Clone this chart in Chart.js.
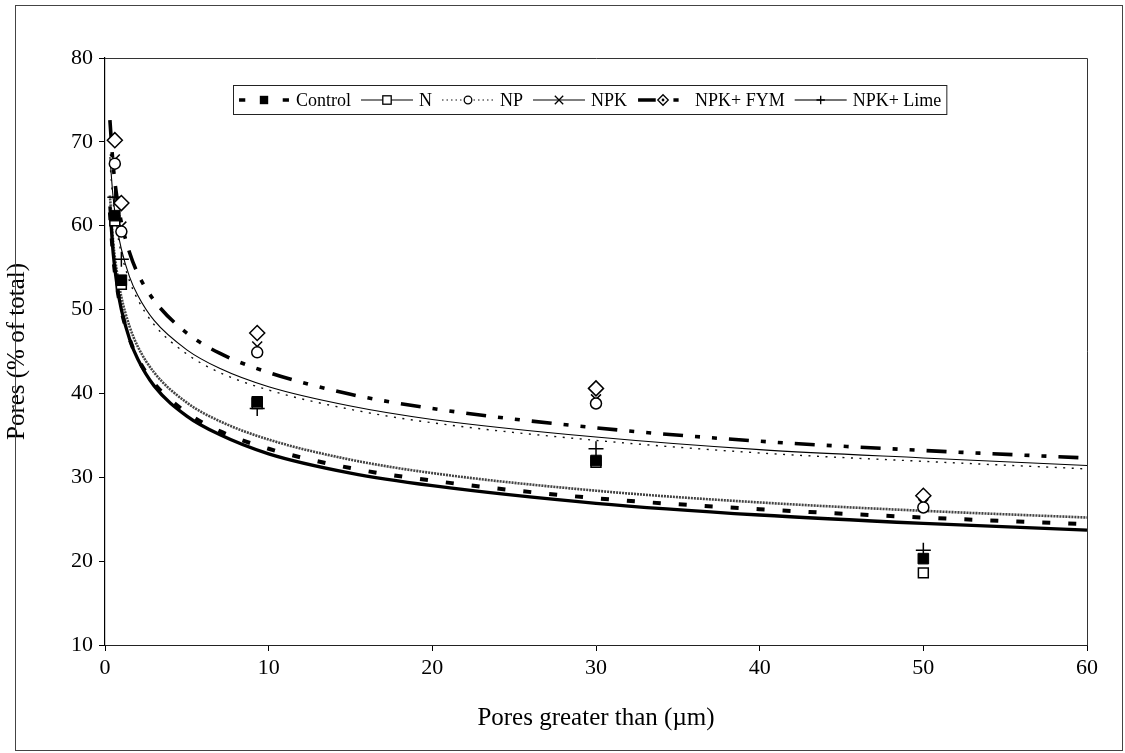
<!DOCTYPE html>
<html><head><meta charset="utf-8">
<script src="https://cdn.jsdelivr.net/npm/chart.js@4.4.0/dist/chart.umd.min.js"></script>
<style>html,body{margin:0;padding:0;background:#fff;}#wrap{width:1125px;height:753px;position:relative;}canvas{display:block;}</style>
</head><body><div id="wrap"><canvas id="c" width="1125" height="753" style="width:1125px;height:753px"></canvas></div>
<script>
// ---- data ----
const seriesNames = ['Control', 'N', 'NP', 'NPK', 'NPK+ FYM', 'NPK+ Lime'];
const xTicks = [0, 10, 20, 30, 40, 50, 60];
const yTicks = [10, 20, 30, 40, 50, 60, 70, 80];

// measured points
const pointX = [0.6, 1.0, 9.3, 30, 50];
const controlPts = [61.2, 53.5, 39.0, 32.0, 20.3];
const nPts       = [60.6, 53.0, 38.8, 31.8, 18.6];
const npPts      = [67.4, 59.3, 44.9, 38.8, 26.4];
const npkPts     = [67.9, 59.9, 45.6, 39.3, 26.8];
const fymPts     = [70.2, 62.7, 47.2, 40.6, 27.8];
const limePts    = [63.4, 56.0, 38.2, 33.4, 21.3];

// trend curves
const curveX       = [0.3, 0.5, 0.75, 1, 1.5, 2, 3, 5, 7, 10, 15, 20, 30, 40, 50, 60];
const controlCurve = [61.6, 56.3, 52.5, 49.9, 46.5, 44.2, 41.2, 37.7, 35.5, 33.4, 31.1, 29.6, 27.5, 26.2, 25.2, 24.4];
const nCurve       = [62.3, 56.7, 52.7, 50.0, 46.5, 44.1, 40.9, 37.3, 35.1, 32.8, 30.5, 29.0, 26.9, 25.5, 24.5, 23.7];
const npCurve      = [67.6, 62.8, 59.2, 56.7, 53.4, 51.2, 48.2, 44.7, 42.5, 40.4, 38.1, 36.5, 34.4, 32.9, 31.9, 31.0];
const npkCurve     = [68.2, 63.3, 59.7, 57.2, 53.9, 51.7, 48.7, 45.2, 43.0, 40.8, 38.5, 36.9, 34.8, 33.3, 32.3, 31.4];
const fymCurve     = [72.6, 67.2, 63.1, 60.4, 56.8, 54.3, 51.1, 47.2, 44.8, 42.5, 39.9, 38.2, 35.9, 34.3, 33.2, 32.3];
const limeCurve    = [63.6, 58.1, 54.2, 51.5, 48.0, 45.6, 42.5, 38.9, 36.7, 34.5, 32.1, 30.5, 28.4, 27.0, 26.0, 25.2];

// ---- styles ----
const FONT = '"Liberation Serif", "Times New Roman", serif';
const pointSets = [controlPts, nPts, npPts, npkPts, fymPts, limePts];
const curveSets = [controlCurve, nCurve, npCurve, npkCurve, fymCurve, limeCurve];
const pointStyles = [
  {pointStyle: 'rect', radius: 7.5, bg: '#000', bw: 1},
  {pointStyle: 'rect', radius: 7, bg: '#fff', bw: 1.5},
  {pointStyle: 'circle', radius: 5.5, bg: '#fff', bw: 1.5},
  {pointStyle: 'crossRot', radius: 7, bg: '#fff', bw: 1.5},
  {pointStyle: 'rectRot', radius: 7.5, bg: '#fff', bw: 1.5},
  {pointStyle: 'cross', radius: 7.5, bg: '#fff', bw: 1.5}
];
const lineStyles = [
  {color: '#000', width: 4, dash: [8, 18]},
  {color: '#000', width: 3.3, dash: []},
  {color: '#111', width: 1.4, dash: [2, 6.5]},
  {color: '#000', width: 1.1, dash: []},
  {color: '#000', width: 3.6, dash: [20, 12, 5, 12, 5, 12]},
  {color: '#444', width: 2.6, dash: [2, 1]}
];
const legendMarkers = ['fsq', 'osq', 'circ', 'x', 'dia', 'plus'];
const legendSegs = [
  [[0.02, 0.14], [0.86, 0.98]],
  [[0, 1]],
  'dots',
  [[0, 1]],
  [[0.02, 0.36], [0.7, 0.8]],
  [[0, 1]]
];
const legendWidths = [3.5, 1.1, 1.2, 1.1, 3.5, 1.6];

function toXY(xs, ys) { return xs.map((x, i) => ({x: x, y: ys[i]})); }

const datasets = [];
pointSets.forEach((p, i) => {
  const s = pointStyles[i];
  datasets.push({
    label: seriesNames[i], data: toXY(pointX, p), showLine: false,
    pointStyle: s.pointStyle, pointRadius: s.radius, pointHoverRadius: s.radius,
    pointBackgroundColor: s.bg, pointBorderColor: '#000', pointBorderWidth: s.bw,
    borderColor: '#000', backgroundColor: s.bg
  });
});
curveSets.forEach((c, i) => {
  const s = lineStyles[i];
  datasets.push({
    label: seriesNames[i] + ' trend', data: toXY(curveX, c), showLine: true,
    pointRadius: 0, borderColor: s.color, borderWidth: s.width, borderDash: s.dash,
    cubicInterpolationMode: 'monotone', fill: false, borderCapStyle: 'butt'
  });
});

function drawMarker(ctx, type, x, y, r) {
  ctx.save();
  ctx.setLineDash([]);
  ctx.lineWidth = 1.3; ctx.strokeStyle = '#000'; ctx.fillStyle = '#fff';
  if (type === 'fsq') { ctx.fillStyle = '#000'; ctx.fillRect(x - r, y - r, 2 * r, 2 * r); }
  else if (type === 'osq') { ctx.fillRect(x - r, y - r, 2 * r, 2 * r); ctx.strokeRect(x - r, y - r, 2 * r, 2 * r); }
  else if (type === 'circ') { ctx.beginPath(); ctx.arc(x, y, r, 0, Math.PI * 2); ctx.fill(); ctx.stroke(); }
  else if (type === 'x') { ctx.beginPath(); ctx.moveTo(x - r, y - r); ctx.lineTo(x + r, y + r); ctx.moveTo(x - r, y + r); ctx.lineTo(x + r, y - r); ctx.stroke(); }
  else if (type === 'dia') {
    const d = r * 1.25;
    ctx.beginPath(); ctx.moveTo(x, y - d); ctx.lineTo(x + d, y); ctx.lineTo(x, y + d); ctx.lineTo(x - d, y); ctx.closePath(); ctx.fill(); ctx.stroke();
    ctx.fillStyle = '#000'; ctx.beginPath(); ctx.arc(x, y, 1.4, 0, Math.PI * 2); ctx.fill();
  }
  else if (type === 'plus') { ctx.beginPath(); ctx.moveTo(x - r, y); ctx.lineTo(x + r, y); ctx.moveTo(x, y - r); ctx.lineTo(x, y + r); ctx.stroke(); }
  ctx.restore();
}

const framePlugin = {
  id: 'frame',
  beforeDraw(chart) {
    const ctx = chart.ctx;
    ctx.save(); ctx.fillStyle = '#fff'; ctx.fillRect(0, 0, chart.width, chart.height); ctx.restore();
  },
  afterDraw(chart) {
    const ctx = chart.ctx, a = chart.chartArea;
    ctx.save();
    ctx.strokeStyle = '#333'; ctx.lineWidth = 1;
    ctx.beginPath();
    ctx.moveTo(a.left, a.top + 0.5); ctx.lineTo(a.right + 0.5, a.top + 0.5); ctx.lineTo(a.right + 0.5, a.bottom);
    ctx.stroke();
    ctx.strokeStyle = '#444';
    ctx.strokeRect(15.5, 5.5, 1107, 745);
    ctx.font = '18px ' + FONT;
    ctx.textBaseline = 'middle';
    const symW = 52, gapT = 6, gapItem = 10, padX = 5;
    const widths = seriesNames.map(n => ctx.measureText(n).width);
    let total = padX * 2;
    widths.forEach((w, i) => { total += symW + gapT + w + (i < widths.length - 1 ? gapItem : 0); });
    const left = 233, top = 85, h = 29;
    ctx.fillStyle = '#fff'; ctx.fillRect(left, top, total, h);
    ctx.strokeStyle = '#222'; ctx.lineWidth = 1; ctx.strokeRect(left + 0.5, top + 0.5, total, h);
    let x = left + padX; const cy = top + h / 2 + 0.5;
    seriesNames.forEach((name, i) => {
      const ls = lineStyles[i];
      ctx.strokeStyle = ls.color; ctx.lineWidth = legendWidths[i];
      if (legendSegs[i] === 'dots') {
        ctx.setLineDash([1.5, 3]);
        ctx.beginPath(); ctx.moveTo(x, cy); ctx.lineTo(x + symW, cy); ctx.stroke();
        ctx.setLineDash([]);
      } else {
        legendSegs[i].forEach(sg => {
          ctx.beginPath(); ctx.moveTo(x + sg[0] * symW, cy); ctx.lineTo(x + sg[1] * symW, cy); ctx.stroke();
        });
      }
      drawMarker(ctx, legendMarkers[i], x + symW / 2, cy, legendMarkers[i] === 'circ' ? 3.8 : 4.2);
      ctx.fillStyle = '#000';
      ctx.fillText(name, x + symW + gapT, cy + 1);
      x += symW + gapT + widths[i] + gapItem;
    });
    ctx.restore();
  }
};

new Chart(document.getElementById('c'), {
  type: 'line',
  data: {datasets: datasets},
  plugins: [framePlugin],
  options: {
    responsive: false, animation: false, devicePixelRatio: 1,
    layout: {padding: {left: 0, right: 38, top: 58, bottom: 0}},
    plugins: {legend: {display: false}, tooltip: {enabled: false}},
    scales: {
      x: {
        type: 'linear', min: 0, max: 60,
        afterBuildTicks: s => { s.ticks = xTicks.map(v => ({value: v})); },
        afterFit: s => { s.height = 108; },
        ticks: {color: '#000', font: {family: FONT, size: 22}, padding: 4, maxRotation: 0},
        grid: {display: true, drawOnChartArea: false, drawTicks: true, tickLength: 6, color: '#000'},
        border: {display: true, color: '#222', width: 1},
        title: {display: true, text: 'Pores greater than (µm)', color: '#000', font: {family: FONT, size: 25}, padding: {top: 0, bottom: 20}}
      },
      y: {
        type: 'linear', min: 10, max: 80,
        afterBuildTicks: s => { s.ticks = yTicks.map(v => ({value: v})); },
        afterFit: s => { s.width = 105; },
        ticks: {color: '#000', font: {family: FONT, size: 22}, padding: 6},
        grid: {display: true, drawOnChartArea: false, drawTicks: true, tickLength: 6, color: '#000'},
        border: {display: true, color: '#000', width: 1.2},
        title: {display: true, text: 'Pores (% of total)', color: '#000', font: {family: FONT, size: 25}, padding: {top: 2, bottom: 0}}
      }
    }
  }
});
</script></body></html>
